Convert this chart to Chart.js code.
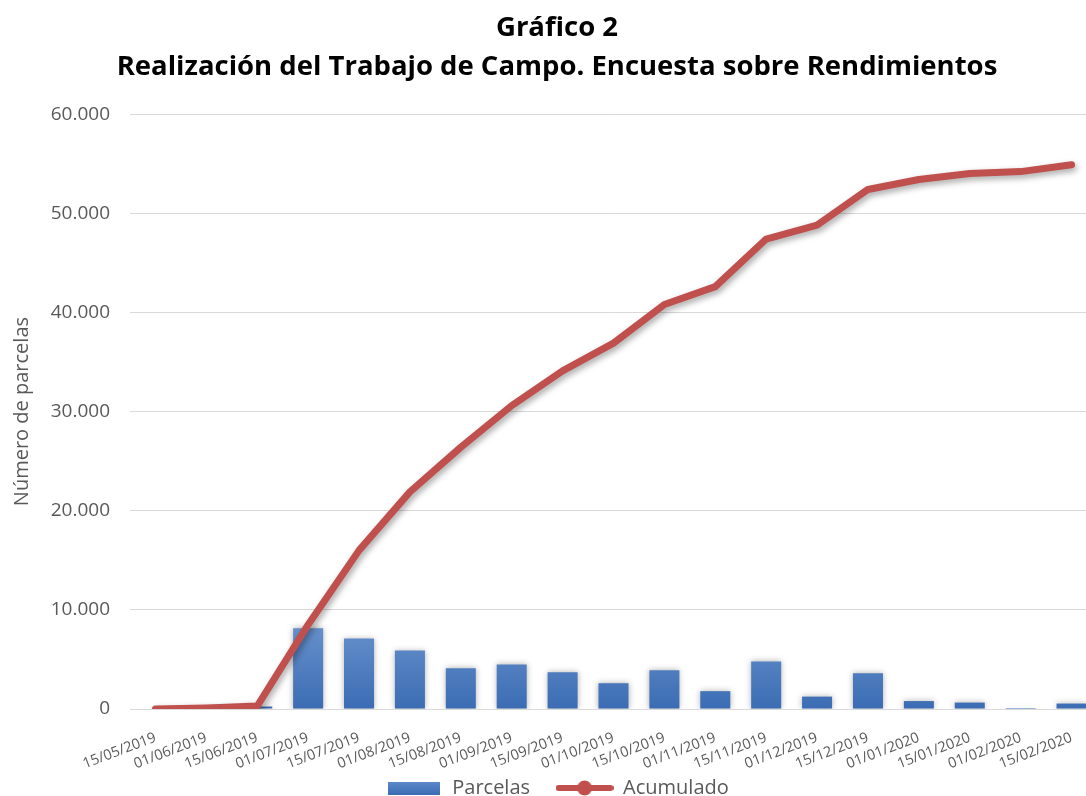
<!DOCTYPE html>
<html>
<head>
<meta charset="utf-8">
<script src="https://cdn.jsdelivr.net/npm/chart.js@4.4.1/dist/chart.umd.min.js"></script>
<style>
  html, body { margin: 0; padding: 0; background: #fff; overflow: hidden; }
  #wrap { width: 1115px; height: 808px; position: relative; }
</style>
</head>
<body>
<div id="wrap"><canvas id="grafico"></canvas></div>
<script>
// fechas del eje X
const fechas = ["15/05/2019","01/06/2019","15/06/2019","01/07/2019","15/07/2019","01/08/2019",
    "15/08/2019","01/09/2019","15/09/2019","01/10/2019","15/10/2019","01/11/2019","15/11/2019",
    "01/12/2019","15/12/2019","01/01/2020","15/01/2020","01/02/2020","15/02/2020"];
// parcelas por quincena (barras)
const parcelas = [0, 100, 250, 8150, 7100, 5900, 4100, 4500, 3700, 2600, 3900, 1800, 4800, 1250, 3600, 800, 650, 100, 550];
// acumulado (linea)
const acumulado = [0, 100, 300, 8500, 16000, 21900, 26400, 30600, 34100, 36900, 40800, 42600, 47400, 48800, 52400, 53400, 54000, 54200, 54900];
const yTicks = [0, 10000, 20000, 30000, 40000, 50000, 60000];

const gris = "#595959";
const rojo = "#c0504d";

function miles(v){
    return String(v).replace(/\B(?=(\d{3})+(?!\d))/g, ".");
}

// iconos de la leyenda
function iconoBarra(){
    let c = document.createElement("canvas");
    c.width = 52; c.height = 13;
    let g = c.getContext("2d");
    let grad = g.createLinearGradient(0,0,0,13);
    grad.addColorStop(0,"#5d8acb");
    grad.addColorStop(1,"#3c6db3");
    g.fillStyle = grad;
    g.fillRect(0,0,52,13);
    return c;
}
function iconoLinea(){
    let c = document.createElement("canvas");
    c.width = 58; c.height = 16;
    let g = c.getContext("2d");
    g.strokeStyle = rojo; g.lineWidth = 6; g.lineCap = "round";
    g.beginPath(); g.moveTo(3,8); g.lineTo(55,8); g.stroke();
    g.fillStyle = rojo;
    g.beginPath(); g.arc(29,8,7.5,0,Math.PI*2); g.fill();
    return c;
}
const iconos = [iconoBarra(), iconoLinea()];

// sombra suave como en excel
const sombra = {
    id: "sombra",
    beforeDatasetDraw(chart, args){
        let ctx = chart.ctx;
        ctx.save();
        if(args.index == 1){
            ctx.shadowColor = "rgba(0,0,0,0.35)";
            ctx.shadowBlur = 6;
            ctx.shadowOffsetX = 2;
            ctx.shadowOffsetY = 3;
        } else {
            ctx.shadowColor = "rgba(0,0,0,0.3)";
            ctx.shadowBlur = 6;
            ctx.shadowOffsetX = 0;
            ctx.shadowOffsetY = 0;
        }
    },
    afterDatasetDraw(chart){
        chart.ctx.restore();
    }
};

let ctx = document.getElementById("grafico");
let chart = new Chart(ctx, {
    type: "bar",
    data: {
        labels: fechas,
        datasets: [{
            label: "Parcelas",
            data: parcelas,
            order: 1,
            barPercentage: 0.59,
            categoryPercentage: 1,
            backgroundColor: (c) => {
                let a = c.chart.chartArea;
                if(!a) return "#4a7bbf";
                let g = c.chart.ctx.createLinearGradient(0, a.bottom - 82, 0, a.bottom);
                g.addColorStop(0, "#6690cb");
                g.addColorStop(1, "#3b6cb3");
                return g;
            }
        },{
            type: "line",
            label: "Acumulado",
            data: acumulado,
            order: 0,
            borderColor: rojo,
            backgroundColor: rojo,
            borderWidth: 7,
            borderCapStyle: "round",
            borderJoinStyle: "round",
            tension: 0,
            pointRadius: 0,
            pointHoverRadius: 0
        }]
    },
    options: {
        responsive: true,
        maintainAspectRatio: false,
        animation: false,
        layout: { padding: { left: 17, right: 18, top: 9, bottom: 0 } },
        plugins: {
            title: {
                display: true,
                text: ["Gráfico 2", "Realización del Trabajo de Campo. Encuesta sobre Rendimientos"],
                color: "#000",
                font: { family: "'Open Sans'", size: 27.5, weight: "bold", lineHeight: 1.42 },
                padding: { top: 0, bottom: 27 }
            },
            legend: {
                position: "bottom",
                labels: {
                    usePointStyle: true,
                    pointStyleWidth: 57,
                    color: gris,
                    font: { family: "'Open Sans'", size: 20 },
                    padding: 26,
                    sort: (a,b) => a.datasetIndex - b.datasetIndex,
                    generateLabels: (ch) => {
                        let items = Chart.defaults.plugins.legend.labels.generateLabels(ch);
                        items.forEach(it => { it.pointStyle = iconos[it.datasetIndex]; it.lineWidth = 0; });
                        return items;
                    }
                }
            },
            tooltip: { enabled: false }
        },
        scales: {
            x: {
                grid: { display: false },
                border: { display: true, color: "#d9d9d9", width: 1 },
                ticks: {
                    color: gris,
                    font: { family: "'Open Sans'", size: 14.5 },
                    minRotation: 21,
                    maxRotation: 21,
                    autoSkip: false,
                    padding: 12
                },
                afterFit: (ax) => {
                    // eje mas bajo para acercar la leyenda, sin recortar las fechas
                    ax.height = 43;
                    ax._computeLabelArea = () => undefined;
                }
            },
            y: {
                min: 0,
                max: 60000,
                afterBuildTicks: (ax) => { ax.ticks = yTicks.map(v => ({ value: v })); },
                grid: { color: "#d9d9d9", lineWidth: 1, drawTicks: false },
                border: { display: false },
                ticks: {
                    color: gris,
                    font: { family: "'Open Sans'", size: 19 },
                    padding: 20,
                    callback: (v) => miles(v)
                },
                title: {
                    display: true,
                    text: "Número de parcelas",
                    color: gris,
                    font: { family: "'Open Sans'", size: 20 },
                    padding: { top: -7, bottom: 0 }
                },
                afterFit: (ax) => { ax.width = 113; }
            }
        }
    },
    plugins: [sombra]
});
</script>
</body>
</html>
